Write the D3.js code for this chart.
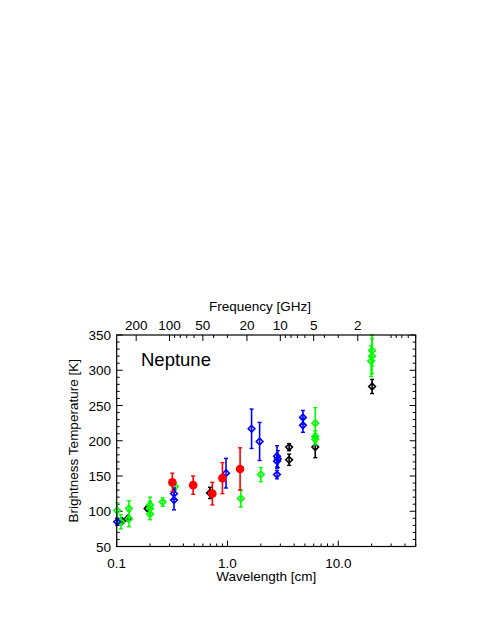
<!DOCTYPE html>
<html>
<head>
<meta charset="utf-8">
<script src="https://cdn.jsdelivr.net/npm/d3@7"></script>
<style>
  body { margin: 0; background: #fff; }
  text { font-family: "Liberation Sans", Arial, sans-serif; fill: #000; }
</style>
</head>
<body>
<div id="chart"></div>
<script>
// [wavelength cm, brightness temperature K, error K]
const blackPts = [
  [0.112, 86, 3], [0.127, 90, 3], [0.19, 104, 3], [0.695, 126, 8],
  [3.6, 191, 5], [3.6, 173, 8], [6.2, 191, 15], [20.2, 277, 10]
];
const greenPts = [
  [0.101, 101, 11], [0.109, 85, 10], [0.129, 104, 11], [0.129, 89, 11],
  [0.2, 109, 11], [0.2, 104, 10], [0.2, 96, 8], [0.26, 113, 6],
  [0.336, 135, 5], [1.32, 118, 12], [2.0, 152, 10],
  [6.2, 225, 22], [6.2, 206, 8], [6.2, 202, 8],
  [20.2, 328, 22], [20.2, 320, 25], [19.8, 313, 22]
];
const bluePts = [
  [0.101, 85, 5], [0.329, 125, 8], [0.329, 116, 14], [0.97, 154, 21],
  [1.65, 217, 28], [1.95, 199, 27],
  [2.8, 178, 15], [2.85, 174, 12], [2.8, 171, 10], [2.8, 152, 6],
  [4.8, 233, 10], [4.8, 222, 10]
];
const redPts = [
  [0.318, 141, 13], [0.49, 137, 13], [0.73, 125, 16], [0.90, 147, 22], [1.30, 160, 30]
];

const wlTicks = [0.1, 1, 10];
const wlLabels = ["0.1", "1.0", "10.0"];
const freqLabels = [200, 100, 50, 20, 10, 5, 2];
const tempTicks = [50, 100, 150, 200, 250, 300, 350];

const width = 481, height = 623;
const pLeft = 116.7, pRight = 415.7, pTop = 335, pBottom = 546.5;
const c = 29.98; // GHz * cm

const x = d3.scaleLog().domain([0.1, 50]).range([pLeft, pRight]);
const y = d3.scaleLinear().domain([50, 350]).range([pBottom, pTop]);

const svg = d3.select("#chart").append("svg")
    .attr("width", width)
    .attr("height", height);

svg.append("rect").attr("width", width).attr("height", height).attr("fill", "#fff");

const axes = svg.append("g").attr("stroke", "#000").attr("stroke-width", 1);

// minor and major ticks for wavelength (bottom)
const wlMinor = [];
for (let k = -1; k <= 1; k++) {
    for (let m = 1; m <= 9; m++) {
        const v = m * Math.pow(10, k);
        if (v >= 0.1 && v <= 50) wlMinor.push(v);
    }
}
wlMinor.forEach(v => {
    const major = wlTicks.some(t => Math.abs(t - v) < 1e-9);
    const len = major ? 6 : 3;
    axes.append("line")
        .attr("x1", x(v)).attr("x2", x(v))
        .attr("y1", pBottom).attr("y2", pBottom - len);
});

// top axis: frequency
const fMinor = [];
for (let k = -1; k <= 2; k++) {
    for (let m = 1; m <= 9; m++) {
        const f = m * Math.pow(10, k);
        const wl = c / f;
        if (wl >= 0.1 && wl <= 50) fMinor.push(f);
    }
}
fMinor.forEach(f => {
    const major = freqLabels.includes(f);
    const len = major ? 6 : 3;
    axes.append("line")
        .attr("x1", x(c / f)).attr("x2", x(c / f))
        .attr("y1", pTop).attr("y2", pTop + len);
});

// y ticks left and right
d3.range(50, 351, 10).forEach(v => {
    const major = v % 50 === 0;
    const len = major ? 6 : 3;
    axes.append("line")
        .attr("x1", pLeft).attr("x2", pLeft + len)
        .attr("y1", y(v)).attr("y2", y(v));
    axes.append("line")
        .attr("x1", pRight).attr("x2", pRight - len)
        .attr("y1", y(v)).attr("y2", y(v));
});

// data
const series = [
    { pts: blackPts, color: "#000000", sym: "diamond" },
    { pts: greenPts, color: "#00ff00", sym: "diamond" },
    { pts: bluePts, color: "#0000ff", sym: "diamond" },
    { pts: redPts, color: "#ff0000", sym: "circle" }
];

series.forEach(s => {
    const g = svg.append("g");
    s.pts.forEach(d => {
        const px = x(d[0]);
        g.append("line")
            .attr("x1", px).attr("x2", px)
            .attr("y1", Math.max(pTop, y(d[1] + d[2]))).attr("y2", y(d[1] - d[2]))
            .attr("stroke", s.color).attr("stroke-width", 1.6);
        [d[1] + d[2], d[1] - d[2]].forEach(v => {
            if (y(v) < pTop) return;
            g.append("line")
                .attr("x1", px - 2).attr("x2", px + 2)
                .attr("y1", y(v)).attr("y2", y(v))
                .attr("stroke", s.color).attr("stroke-width", 1.4);
        });
    });
    if (s.sym === "circle") {
        g.selectAll("circle").data(s.pts).enter().append("circle")
            .attr("cx", d => x(d[0])).attr("cy", d => y(d[1]))
            .attr("r", 4.3).attr("fill", s.color);
    } else {
        g.selectAll("path.sym").data(s.pts).enter().append("path")
            .attr("class", "sym")
            .attr("d", d => {
                const px = x(d[0]), py = y(d[1]), r = 3.3;
                return `M${px},${py - r}L${px + r},${py}L${px},${py + r}L${px - r},${py}Z`;
            })
            .attr("fill", "none").attr("stroke", s.color).attr("stroke-width", 1.6);
    }
});

// frame
svg.append("rect")
    .attr("x", pLeft).attr("y", pTop)
    .attr("width", pRight - pLeft).attr("height", pBottom - pTop)
    .attr("fill", "none").attr("stroke", "#000").attr("stroke-width", 1.2);

// labels
const fs = 13.5;
wlTicks.forEach((v, i) => {
    svg.append("text")
        .attr("x", x(v)).attr("y", 567.5)
        .attr("text-anchor", "middle").attr("font-size", fs)
        .text(wlLabels[i]);
});
freqLabels.forEach(f => {
    svg.append("text")
        .attr("x", x(c / f)).attr("y", 329.5)
        .attr("text-anchor", "middle").attr("font-size", fs)
        .text(f);
});
tempTicks.forEach(v => {
    svg.append("text")
        .attr("x", 111).attr("y", y(v) + 5)
        .attr("text-anchor", "end").attr("font-size", fs)
        .text(v);
});

svg.append("text")
    .attr("x", (pLeft + pRight) / 2).attr("y", 581)
    .attr("text-anchor", "middle").attr("font-size", fs)
    .text("Wavelength [cm]");
svg.append("text")
    .attr("x", 260).attr("y", 311)
    .attr("text-anchor", "middle").attr("font-size", fs)
    .text("Frequency [GHz]");
svg.append("text")
    .attr("transform", `translate(78,${(pTop + pBottom) / 2}) rotate(-90)`)
    .attr("text-anchor", "middle").attr("font-size", fs)
    .text("Brightness Temperature [K]");
svg.append("text")
    .attr("x", 141).attr("y", 366)
    .attr("font-size", 18.5)
    .text("Neptune");
</script>
</body>
</html>
